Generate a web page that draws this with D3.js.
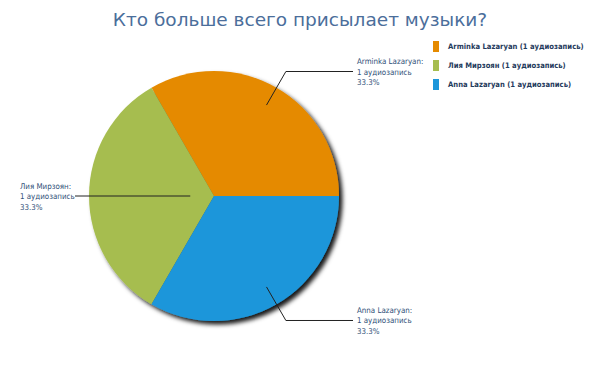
<!DOCTYPE html>
<html>
<head>
<meta charset="utf-8">
<script src="https://cdn.jsdelivr.net/npm/d3@7"></script>
<style>
  body { margin: 0; background: #fff; }
  svg { font-family: "DejaVu Sans Condensed", "DejaVu Sans", sans-serif; }
</style>
</head>
<body>
<svg width="604" height="377"></svg>
<script>
// data
var names = ["Arminka Lazaryan", "Лия Мирзоян", "Anna Lazaryan"];
var counts = [1, 1, 1];
var unit = "аудиозапись";
var colors = ["#e58a00", "#a6bd4f", "#1d96da"];

var svg = d3.select("svg"),
	cx = 214, cy = 196, R = 125;

// title
svg.append("text")
	.attr("x", 300).attr("y", 26)
	.attr("text-anchor", "middle")
	.attr("font-family", "DejaVu Sans, sans-serif")
	.attr("font-size", 18.5)
	.attr("fill", "#4b6e9b")
	.text("Кто больше всего присылает музыки?");

// shadow filter
var defs = svg.append("defs");
var f = defs.append("filter").attr("id", "shadow")
	.attr("x", "-20%").attr("y", "-20%").attr("width", "140%").attr("height", "140%");
f.append("feDropShadow")
	.attr("dx", 3.5).attr("dy", 3.5).attr("stdDeviation", 2)
	.attr("flood-color", "#000").attr("flood-opacity", 0.9);

var total = d3.sum(counts);
var pie = d3.pie().sort(null)
	.startAngle(Math.PI / 2)
	.endAngle(Math.PI / 2 - 2 * Math.PI);
var arcs = pie(counts);
var arc = d3.arc().innerRadius(0).outerRadius(R);

var g = svg.append("g").attr("transform", "translate(" + cx + "," + cy + ")");

g.append("g").attr("filter", "url(#shadow)")
	.selectAll("path")
	.data(arcs)
	.enter().append("path")
	.attr("d", arc)
	.attr("fill", (d, i) => colors[i]);

// leader lines and labels
var innerFrac = [0.84, 0.19, 0.84];
var elbowFrac = 1.15;

arcs.forEach(function(d, i) {
	var mid = (d.startAngle + d.endAngle) / 2;
	var sx = Math.sin(mid), sy = -Math.cos(mid);
	var p0 = [sx * R * innerFrac[i], sy * R * innerFrac[i]];
	var p1 = [sx * R * elbowFrac, sy * R * elbowFrac];
	var right = sx >= 0;
	var xEnd = right ? R + 14 : -(R + 14);
	if (Math.abs(sy) < 0.01) p1 = [p0[0], p0[1]];
	var pts = [p0, p1, [xEnd, p1[1]]];

	g.append("path")
		.attr("d", d3.line()(pts))
		.attr("fill", "none")
		.attr("stroke", "#222")
		.attr("stroke-width", 1);

	var tx = right ? xEnd + 4 : xEnd - 55;
	var lines = [names[i] + ":", counts[i] + " " + unit, (100 * counts[i] / total).toFixed(1) + "%"];
	var t = g.append("text")
		.attr("x", tx)
		.attr("y", p1[1] - 10.5 + 3)
		.attr("font-size", 7.9)
		.attr("fill", "#2f5078");
	lines.forEach(function(s, k) {
		t.append("tspan").attr("x", tx).attr("dy", k == 0 ? 0 : 10.5).text(s);
	});
});

// legend
var lg = svg.append("g").attr("transform", "translate(433,41)");
var row = lg.selectAll("g").data(names).enter().append("g")
	.attr("transform", (d, i) => "translate(0," + i * 19 + ")");
row.append("rect").attr("width", 6).attr("height", 11)
	.attr("fill", (d, i) => colors[i]);
row.append("text").attr("x", 15).attr("y", 8.2)
	.attr("font-size", 7.6).attr("font-weight", "bold")
	.attr("fill", "#1f3a5c")
	.text((d, i) => d + " (" + counts[i] + " " + unit + ")");
</script>
</body>
</html>
